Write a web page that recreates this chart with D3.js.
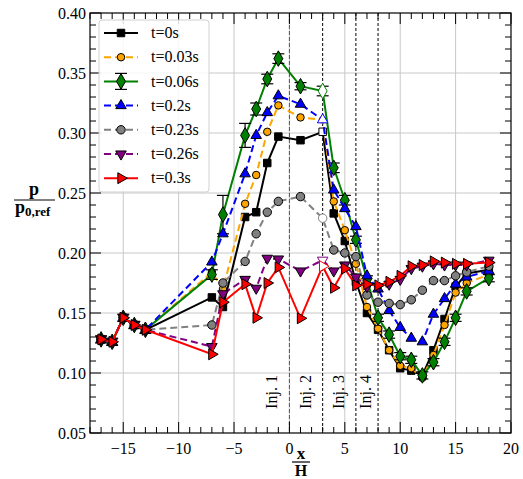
<!DOCTYPE html>
<html>
<head>
    <meta charset="utf-8">
    <title>Pressure distribution</title>
    <style>
        body { margin: 0; background: #fff; }
        text { font-family: "Liberation Serif", "DejaVu Serif", serif; }
    </style>
</head>
<body>
    <svg width="523" height="479"></svg>
    <script src="https://cdn.jsdelivr.net/npm/d3@7"></script>
    <script>
        // x positions (x/H) shared by every series
        var xPos = [-17,-16,-15,-14,-13,-7,-6,-4,-3,-2,-1,1,3,4,5,6,7,8,9,10,11,12,13,14,15,16,18];

        var p_t0    = [0.128,0.126,0.146,0.140,0.136,0.163,0.155,0.230,0.234,0.275,0.297,0.294,0.301,0.233,0.210,0.176,0.150,0.136,0.119,0.104,0.102,0.098,0.119,0.145,0.172,0.183,0.186];
        var p_t003  = [0.128,0.126,0.146,0.140,0.136,0.184,0.170,0.241,0.265,0.301,0.323,0.313,0.311,0.243,0.219,0.191,0.155,0.137,0.119,0.106,0.104,0.096,0.115,0.140,0.167,0.175,0.182];
        var p_t006  = [0.128,0.126,0.146,0.140,0.136,0.182,0.232,0.298,0.320,0.345,0.362,0.339,0.335,0.271,0.244,0.211,0.178,0.146,0.132,0.114,0.111,0.098,0.109,0.126,0.146,0.168,0.179];
        var err_t006 = [0.003,0.003,0.003,0.003,0.003,0.004,0.016,0.010,0.005,0.004,0.004,0.003,0.004,0.004,0.004,0.003,0.003,0.003,0.003,0.003,0.003,0.003,0.003,0.003,0.003,0.003,0.003];
        var p_t02   = [0.128,0.126,0.146,0.140,0.136,0.1925,0.216,0.266,0.298,0.317,0.331,0.324,0.311,0.2525,0.237,0.222,0.181,0.170,0.152,0.138,0.129,0.126,0.149,0.162,0.174,0.180,0.185];
        var p_t023  = [0.128,0.126,0.146,0.140,0.136,0.140,0.175,0.193,0.216,0.234,0.243,0.247,0.229,0.2025,0.200,0.197,0.165,0.159,0.158,0.157,0.161,0.169,0.177,0.177,0.181,0.184,0.189];
        var p_t026  = [0.128,0.126,0.146,0.140,0.136,0.122,0.166,0.178,0.1706,0.1956,0.195,0.185,0.194,0.185,0.190,0.180,0.172,0.172,0.174,0.178,0.187,0.189,0.191,0.190,0.190,0.190,0.194];
        var p_t03   = [0.128,0.126,0.146,0.140,0.136,0.1156,0.159,0.174,0.146,0.175,0.188,0.1456,0.189,0.171,0.187,0.173,0.174,0.173,0.176,0.181,0.189,0.190,0.193,0.192,0.191,0.191,0.192];

        var labels = ["t=0s","t=0.03s","t=0.06s","t=0.2s","t=0.23s","t=0.26s","t=0.3s"];
        var injX = [0, 3, 6, 8];
        var injLabels = ["Inj. 1","Inj. 2","Inj. 3","Inj. 4"];
        var xTicks = [-15,-10,-5,0,5,10,15,20];
        var yTicks = [0.05,0.10,0.15,0.20,0.25,0.30,0.35,0.40];

        // style of each series
        var series = [
            {label: labels[0], values: p_t0,   color: "black",   dash: null,  symbol: d3.symbolSquare,   size: 56, rot: 0},
            {label: labels[1], values: p_t003, color: "orange",  dash: "7,4", symbol: d3.symbolCircle,   size: 44, rot: 0},
            {label: labels[2], values: p_t006, color: "green",   dash: null,  symbol: d3.symbolDiamond,  size: 70, rot: 0, err: err_t006},
            {label: labels[3], values: p_t02,  color: "blue",    dash: "7,4", symbol: d3.symbolTriangle, size: 48, rot: 0},
            {label: labels[4], values: p_t023, color: "grey",    dash: "7,4", symbol: d3.symbolCircle,   size: 56, rot: 0},
            {label: labels[5], values: p_t026, color: "purple",  dash: "7,4", symbol: d3.symbolTriangle, size: 48, rot: 180},
            {label: labels[6], values: p_t03,  color: "red",     dash: null,  symbol: d3.symbolTriangle, size: 52, rot: 90}
        ];

        var svg = d3.select("svg");
        var margin = {left: 90, top: 13, right: 12, bottom: 46};
        var width = +svg.attr("width") - margin.left - margin.right;
        var height = +svg.attr("height") - margin.top - margin.bottom;
        var g = svg.append("g").attr("transform", "translate(" + margin.left + "," + margin.top + ")");

        var x = d3.scaleLinear().domain([-18, 20]).range([0, width]);
        var y = d3.scaleLinear().domain([0.05, 0.40]).range([height, 0]);

        // grid
        g.append("g").selectAll("line").data(xTicks.filter(function(d){ return d > -18 && d < 20; }))
            .enter().append("line")
            .attr("x1", function(d){ return x(d); }).attr("x2", function(d){ return x(d); })
            .attr("y1", 0).attr("y2", height)
            .style("stroke", "#c8c8c8").style("stroke-width", 1);
        g.append("g").selectAll("line").data(yTicks.slice(1, -1))
            .enter().append("line")
            .attr("x1", 0).attr("x2", width)
            .attr("y1", function(d){ return y(d); }).attr("y2", function(d){ return y(d); })
            .style("stroke", "#c8c8c8").style("stroke-width", 1);

        // injection lines
        g.append("g").selectAll("line").data(injX)
            .enter().append("line")
            .attr("x1", function(d){ return x(d); }).attr("x2", function(d){ return x(d); })
            .attr("y1", 0).attr("y2", height)
            .style("stroke", function(d,i){ return i == 0 ? "#555" : "black"; })
            .style("stroke-width", 1)
            .style("stroke-dasharray", function(d,i){ return i == 0 ? "4,2" : "3,2"; });
        g.append("g").selectAll("text").data(injX)
            .enter().append("text")
            .attr("transform", function(d,i){
                var off = i == 3 ? -7 : -12;
                return "translate(" + (x(d) + off) + "," + (height - 41) + ") rotate(-90)";
            })
            .attr("text-anchor", "middle")
            .style("font-size", "16px")
            .text(function(d,i){ return injLabels[i]; });

        // axes with inward ticks on all four sides
        function tickMarks(axisG, side){
            var sel = axisG.append("g");
            if (side == "bottom" || side == "top") {
                d3.range(-18, 20.01, 1).forEach(function(v){
                    var l = v % 5 == 0 ? 11 : 6;
                    var y0 = side == "bottom" ? height : 0;
                    var y1 = side == "bottom" ? height - l : l;
                    sel.append("line").attr("x1", x(v)).attr("x2", x(v)).attr("y1", y0).attr("y2", y1)
                        .style("stroke", "black").style("stroke-width", 1);
                });
            } else {
                d3.range(5, 40.01, 1).forEach(function(k){
                    var v = k / 100;
                    var l = k % 5 == 0 ? 11 : 6;
                    var x0 = side == "left" ? 0 : width;
                    var x1 = side == "left" ? l : width - l;
                    sel.append("line").attr("x1", x0).attr("x2", x1).attr("y1", y(v)).attr("y2", y(v))
                        .style("stroke", "black").style("stroke-width", 1);
                });
            }
        }
        ["bottom","top","left","right"].forEach(function(s){ tickMarks(g, s); });

        var fmtY = d3.format(".2f");
        g.append("g").selectAll("text").data(yTicks).enter().append("text")
            .attr("x", -4).attr("y", function(d){ return y(d); }).attr("dy", "0.35em")
            .attr("text-anchor", "end").style("font-size", "16px")
            .text(function(d){ return fmtY(d); });
        g.append("g").selectAll("text").data(xTicks).enter().append("text")
            .attr("x", function(d){ return x(d); }).attr("y", height + 16).attr("dy", "0.3em")
            .attr("text-anchor", "middle").style("font-size", "16px")
            .text(function(d){ return d3.format("d")(d); });

        // frame
        g.append("rect").attr("width", width).attr("height", height)
            .style("fill", "none").style("stroke", "black").style("stroke-width", 1.2);

        // series lines
        var line = d3.line()
            .x(function(d){ return x(d[0]); })
            .y(function(d){ return y(d[1]); });

        function symPath(s){
            return d3.symbol().type(s.symbol).size(s.size)();
        }

        series.forEach(function(s){
            var pts = xPos.map(function(v, i){ return [v, s.values[i], s.err ? s.err[i] : 0]; });
            g.append("path").datum(pts)
                .attr("d", line)
                .style("fill", "none")
                .style("stroke", s.color)
                .style("stroke-width", 2)
                .style("stroke-dasharray", s.dash);
            if (s.err) {
                var eb = g.append("g");
                pts.forEach(function(p){
                    var cx = x(p[0]), y0 = y(p[1] - p[2]), y1 = y(p[1] + p[2]);
                    eb.append("line").attr("x1", cx).attr("x2", cx).attr("y1", y0).attr("y2", y1)
                        .style("stroke", "black").style("stroke-width", 1.2);
                    [y0, y1].forEach(function(yy){
                        eb.append("line").attr("x1", cx - 6).attr("x2", cx + 6).attr("y1", yy).attr("y2", yy)
                            .style("stroke", "black").style("stroke-width", 1.2);
                    });
                });
            }
            g.append("g").selectAll("path").data(pts).enter().append("path")
                .attr("d", symPath(s))
                .attr("transform", function(d){
                    return "translate(" + x(d[0]) + "," + y(d[1]) + ") rotate(" + s.rot + ")";
                })
                .style("fill", function(d){ return d[0] == 3 ? "white" : s.color; })
                .style("stroke", function(d){ return d[0] == 3 ? s.color : "black"; })
                .style("stroke-width", 1);
        });

        // legend
        var lg = g.append("g").attr("transform", "translate(9,7)");
        lg.append("rect").attr("width", 110).attr("height", 172).attr("rx", 3)
            .style("fill", "white").style("fill-opacity", 0.85)
            .style("stroke", "#d0d0d0").style("stroke-width", 1);
        series.forEach(function(s, i){
            var row = lg.append("g").attr("transform", "translate(0," + (13 + i * 24.2) + ")");
            row.append("line").attr("x1", 5).attr("x2", 39).attr("y1", 0).attr("y2", 0)
                .style("stroke", s.color).style("stroke-width", 2).style("stroke-dasharray", s.dash);
            if (s.err) {
                row.append("line").attr("x1", 22).attr("x2", 22).attr("y1", -8).attr("y2", 8)
                    .style("stroke", "black").style("stroke-width", 1.2);
                [-8, 8].forEach(function(yy){
                    row.append("line").attr("x1", 16).attr("x2", 28).attr("y1", yy).attr("y2", yy)
                        .style("stroke", "black").style("stroke-width", 1.2);
                });
            }
            row.append("path").attr("d", symPath(s))
                .attr("transform", "translate(22,0) rotate(" + s.rot + ")")
                .style("fill", s.color).style("stroke", "black").style("stroke-width", 1);
            row.append("text").attr("x", 52).attr("y", 0).attr("dy", "0.33em")
                .style("font-size", "16px").text(s.label);
        });

        // axis labels as fractions
        var yl = svg.append("g").attr("transform", "translate(34,200)");
        yl.append("line").attr("x1", -20).attr("x2", 21).attr("y1", 0).attr("y2", 0)
            .style("stroke", "black").style("stroke-width", 1.2);
        yl.append("text").attr("x", 0).attr("y", -5).attr("text-anchor", "middle")
            .style("font-size", "18px").style("font-weight", "bold").text("p");
        var yt = yl.append("text").attr("x", -19).attr("y", 13)
            .style("font-size", "18px").style("font-weight", "bold");
        yt.append("tspan").text("p");
        yt.append("tspan").attr("dy", 3).style("font-size", "13px").text("0,ref");

        var xl = svg.append("g").attr("transform", "translate(301,462)");
        xl.append("line").attr("x1", -9).attr("x2", 9).attr("y1", 0).attr("y2", 0)
            .style("stroke", "black").style("stroke-width", 1.2);
        xl.append("text").attr("x", 0).attr("y", -3).attr("text-anchor", "middle")
            .style("font-size", "17px").style("font-weight", "bold").text("x");
        xl.append("text").attr("x", 0).attr("y", 14).attr("text-anchor", "middle")
            .style("font-size", "16px").style("font-weight", "bold").text("H");
    </script>
</body>
</html>
